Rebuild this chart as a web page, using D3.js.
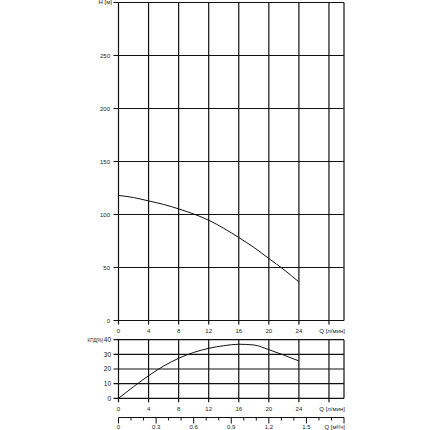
<!DOCTYPE html>
<html lang="ru">
<head>
    <meta charset="utf-8">
    <script src="https://d3js.org/d3.v7.min.js"></script>
    <style>
        body { margin: 0; background: #fff; }
        text { font-family: "Liberation Sans", Arial, sans-serif; fill: #222; }
    </style>
</head>
<body>
    <div id="graphique"></div>
    <script>
        // débit Q [л/мин]
        const debits = [0, 2, 4, 6, 8, 10, 12, 14, 16, 18, 20, 22, 24];
        // hauteur H [м]
        const hauteurs = [118, 116, 112.8, 109.5, 105.3, 100.5, 94.6, 87, 78.3, 69, 58.5, 48, 36.4];
        // rendement КПД [%]
        const rendements = [0, 7.9, 15.4, 22, 27.3, 31.3, 34.1, 35.9, 36.9, 36.4, 33.2, 29.5, 25.5];

        const ticksQ = [0, 4, 8, 12, 16, 20, 24, 28];
        const ticksH = [0, 50, 100, 150, 200, 250, 300];
        const ticksRend = [0, 10, 20, 30, 40];
        const ticksM3 = [0, 0.3, 0.6, 0.9, 1.2, 1.5];

        const svg = d3.select("#graphique")
            .append("svg")
            .attr("width", 430)
            .attr("height", 430);

        const x = d3.scaleLinear().domain([0, 30]).range([118.5, 344]);
        const yH = d3.scaleLinear().domain([0, 300]).range([320.5, 2.5]);
        const yR = d3.scaleLinear().domain([0, 40]).range([398.3, 339.7]);
        const xM3 = d3.scaleLinear().domain([0, 1.8]).range([118.5, 344]);

        function grille(y, ticksY, basY) {
            const g = svg.append("g").attr("stroke", "#111").attr("stroke-width", 1.2);
            ticksY.forEach(t => {
                g.append("line")
                    .attr("x1", x(0) - 5).attr("x2", x(30))
                    .attr("y1", y(t)).attr("y2", y(t));
            });
            ticksQ.concat([30]).forEach(q => {
                g.append("line")
                    .attr("x1", x(q)).attr("x2", x(q))
                    .attr("y1", y(ticksY[ticksY.length - 1])).attr("y2", y(0) + (q === 30 ? 0 : 4));
            });
            // graduations de Q
            ticksQ.slice(0, 7).forEach(q => {
                svg.append("text")
                    .attr("x", x(q)).attr("y", basY)
                    .attr("text-anchor", "middle")
                    .attr("font-size", 6)
                    .text(q);
            });
            svg.append("text")
                .attr("x", 345).attr("y", basY)
                .attr("text-anchor", "end")
                .attr("font-size", 6)
                .text("Q [л/мин]");
        }

        grille(yH, ticksH, 332.5);
        grille(yR, ticksRend, 410.5);

        // étiquettes de H
        ticksH.slice(0, 6).forEach(t => {
            svg.append("text")
                .attr("x", 110).attr("y", yH(t) + 2)
                .attr("text-anchor", "end")
                .attr("font-size", 6)
                .text(t);
        });
        svg.append("text")
            .attr("x", 112).attr("y", 3.5)
            .attr("text-anchor", "end")
            .attr("font-size", 6)
            .text("H [м]");

        // étiquettes du rendement
        ticksRend.forEach(t => {
            svg.append("text")
                .attr("x", 111).attr("y", yR(t) + 2.2)
                .attr("text-anchor", "end")
                .attr("font-size", 6.5)
                .text(t);
        });
        svg.append("text")
            .attr("x", 103).attr("y", yR(40) + 2)
            .attr("text-anchor", "end")
            .attr("font-size", 4.5)
            .text("КПД[%]");

        // courbes
        const ligneH = d3.line()
            .x((d, i) => x(debits[i]))
            .y(d => yH(d))
            .curve(d3.curveMonotoneX);
        svg.append("path")
            .attr("d", ligneH(hauteurs))
            .attr("fill", "none")
            .attr("stroke", "#111")
            .attr("stroke-width", 1);

        const ligneR = d3.line()
            .x((d, i) => x(debits[i]))
            .y(d => yR(d))
            .curve(d3.curveMonotoneX);
        svg.append("path")
            .attr("d", ligneR(rendements))
            .attr("fill", "none")
            .attr("stroke", "#111")
            .attr("stroke-width", 1);

        // axe Q [м³/ч]
        const axeM3 = svg.append("g").attr("stroke", "#111").attr("stroke-width", 1);
        axeM3.append("line")
            .attr("x1", xM3(0)).attr("x2", xM3(1.8))
            .attr("y1", 417.5).attr("y2", 417.5);
        d3.range(0, 19).forEach(i => {
            const v = i / 10;
            const majeur = i % 3 === 0;
            axeM3.append("line")
                .attr("x1", xM3(v)).attr("x2", xM3(v))
                .attr("y1", 417.5).attr("y2", majeur ? 423.5 : 420.5);
        });
        ticksM3.forEach(v => {
            svg.append("text")
                .attr("x", xM3(v)).attr("y", 428.5)
                .attr("text-anchor", "middle")
                .attr("font-size", 6)
                .text(v);
        });
        svg.append("text")
            .attr("x", 345).attr("y", 428.5)
            .attr("text-anchor", "end")
            .attr("font-size", 6)
            .text("Q [м³/ч]");
    </script>
</body>
</html>
